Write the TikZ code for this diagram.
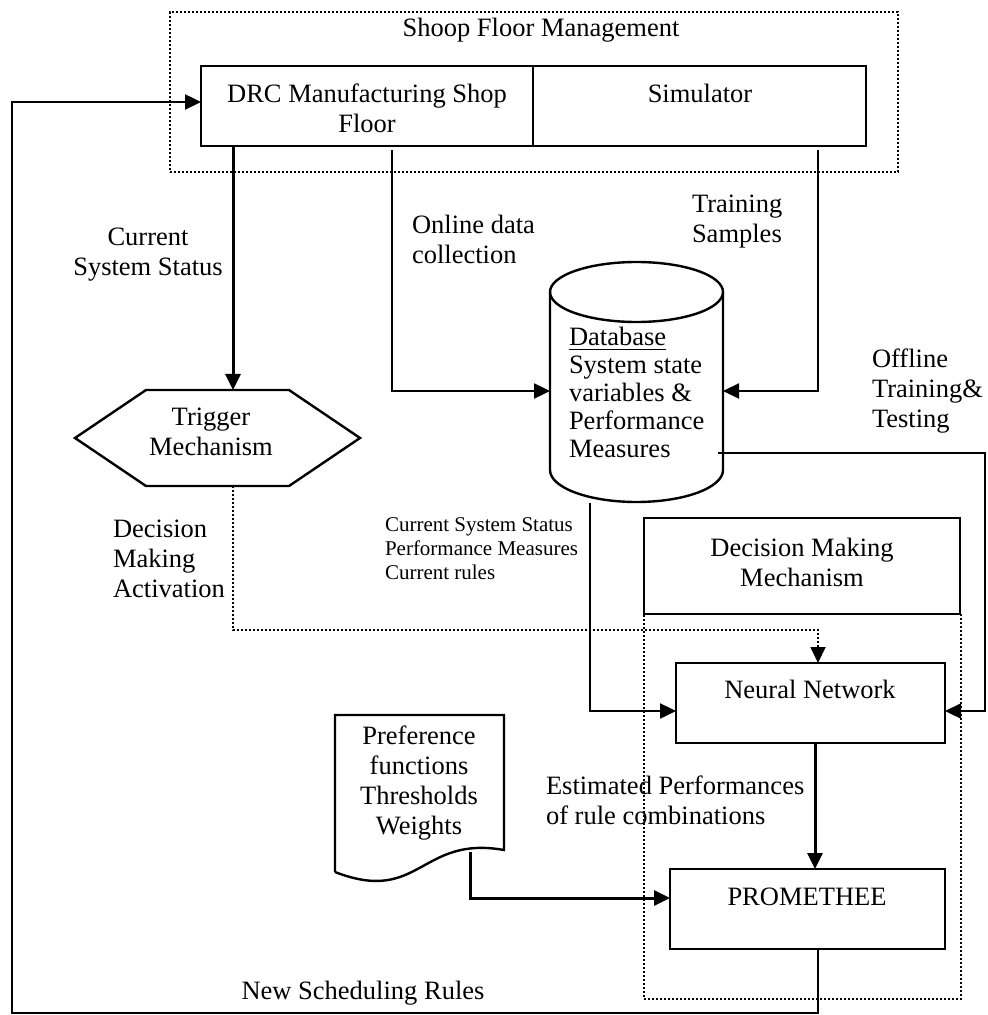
\documentclass[tikz,border=0pt]{standalone}
\usepackage{fontspec}
\setmainfont{Liberation Serif}
\usetikzlibrary{arrows.meta,calc}
\begin{document}
\begin{tikzpicture}[x=0.5pt,y=-0.5pt,
  every node/.style={font=\fontsize{13.25pt}{15pt}\selectfont, inner sep=0pt, outer sep=0pt},
  box/.style={draw, line width=1.2pt, fill=white, anchor=north west},
  ghost/.style={anchor=north west},
  tip/.style={-{Triangle[length=8pt,width=7.5pt]}},
  arr/.style={line width=1.5pt, tip},
  thinarr/.style={line width=1.2pt, tip},
  dots/.style={line width=0.9pt, dash pattern=on 0.9pt off 1.1pt},
  small/.style={font=\fontsize{10.5pt}{12pt}\selectfont}
]
\useasboundingbox (0,0) rectangle (987,1015);

% shop floor group
\node[ghost, draw, dots, minimum width=364pt, minimum height=80pt] (sfm) at (170,12) {};
\node (sfmt) at (541,30) {Shoop Floor Management};
\node[box, minimum width=166pt, minimum height=40pt] (drc) at (201,66) {};
\node[box, minimum width=166.5pt, minimum height=40pt] (sim) at (533,66) {};
\node[align=center] (drct) at (367,108) {DRC Manufacturing Shop\\Floor};
\node (simt) at (700,93) {Simulator};

% trigger mechanism (hexagon)
\node[minimum width=142.5pt, minimum height=48pt] (trig) at (217.5,438) {};
\draw[line width=1.2pt] (trig.west) -- ([xshift=35.5pt]trig.north west) -- ([xshift=-35.5pt]trig.north east)
  -- (trig.east) -- ([xshift=-35.5pt]trig.south east) -- ([xshift=35.5pt]trig.south west) -- cycle;
\node[align=center] (trigt) at (211,431.5) {Trigger\\Mechanism};

% database (cylinder)
\node[ghost, minimum width=86.5pt, minimum height=120pt] (db) at (550,262) {};
\draw[line width=1.2pt] ([yshift=-15pt]db.north west) -- ([yshift=16pt]db.south west)
  arc[start angle=180, end angle=360, x radius=43.25pt, y radius=16pt] -- ([yshift=-15pt]db.north east);
\draw[line width=1.2pt] ([yshift=-15pt]db.north) ellipse [x radius=43.25pt, y radius=15pt];
\node[anchor=west, align=left, font=\fontsize{13.25pt}{13.9pt}\selectfont] (dbt) at (569,392.5)
  {\underline{Database}\\System state\\variables \&\\Performance\\Measures};

% decision making group
\node[ghost, draw, dots, minimum width=158.5pt, minimum height=192.5pt] (dmo) at (644,614) {};
\node[box, minimum width=158pt, minimum height=48pt] (dm) at (644,518) {};
\node[align=center] (dmt) at (802,562) {Decision Making\\Mechanism};
\node[box, minimum width=134.5pt, minimum height=40pt] (nn) at (676,663) {};
\node (nnt) at (810,689) {Neural Network};
\node[box, minimum width=137.5pt, minimum height=40pt] (prom) at (670,869) {};
\node (promt) at (807,897) {PROMETHEE};

% parameter document
\node[ghost, minimum width=84.5pt, minimum height=78.5pt] (doc) at (335,715) {};
\draw[line width=1.2pt] (doc.south west) -- (doc.north west) -- (doc.north east)
  -- ([yshift=11pt]doc.south east) .. controls (420,835) and (420,905) .. (doc.south west);
\node[align=center] (doct) at (419,783) {Preference\\functions\\Thresholds\\Weights};

% helper points
\coordinate (dmturn) at (818,630);
\coordinate (redge) at (985,453);
\coordinate (docout) at (470,852);
\coordinate (blc) at (12,1013);

% connectors
\draw[arr] ([xshift=16pt]drc.south west) -- ([xshift=16pt]drc.south west |- trig.north);
\draw[thinarr] ([xshift=95.5pt,yshift=-2pt]drc.south west) |- ([yshift=-4.5pt]db.west);
\draw[thinarr] ([xshift=-24pt,yshift=-2pt]sim.south east) |- ([yshift=-4.5pt]db.east);
\draw[dots, tip] ([xshift=7.75pt]trig.south) |- (dmturn) -| ([xshift=3.75pt]nn.north);
\draw[thinarr] ([xshift=-23.25pt,yshift=-0.5pt]db.south) |- ([yshift=-4pt]nn.west);
\draw[thinarr] ([xshift=-2.5pt,yshift=-35.5pt]db.east) -- (redge) |- ([yshift=-4pt]nn.east);
\draw[arr] ([xshift=2.25pt]nn.south) -- ([xshift=2.25pt]nn.south |- prom.north);
\draw[arr] (docout) |- ([yshift=5.5pt]prom.west);
\draw[thinarr] ([xshift=5.25pt]prom.south) |- (blc) |- ([yshift=2pt]drc.west);

% connector labels
\node[align=center] (lcss) at (148,255) {Current\\System Status};
\node[anchor=west, align=left] (lonl) at (412,239) {Online data\\collection};
\node[anchor=west, align=left] (ltrs) at (692,222) {Training\\Samples};
\node[anchor=west, align=left] (loff) at (872,391) {Offline\\Training\&\\Testing};
\node[anchor=west, align=left] (ldma) at (113,559) {Decision\\Making\\Activation};
\node[anchor=west, align=left, small] (linfo) at (385,549) {Current System Status\\Performance Measures\\Current rules};
\node[anchor=west, align=left] (lest) at (546,800) {Estimated Performances\\of rule combinations};
\node (lnew) at (363,993) {New Scheduling Rules};
\end{tikzpicture}
\end{document}
